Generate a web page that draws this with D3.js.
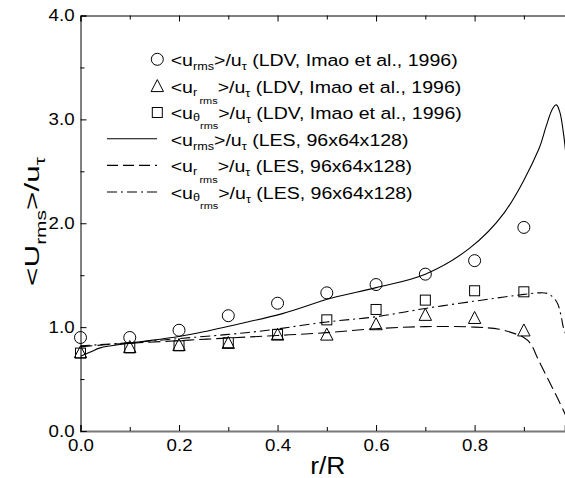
<!DOCTYPE html>
<html>
<head>
<meta charset="utf-8">
<script src="https://cdn.jsdelivr.net/npm/d3@7/dist/d3.min.js"></script>
<style>
  html, body { margin: 0; padding: 0; background: #fff; }
  svg { display: block; }
  text { font-family: "Liberation Sans", Arial, Helvetica, sans-serif; fill: #000; }
</style>
</head>
<body>
<svg id="chart" width="565" height="478"></svg>
<script>
// ---------- data ----------
const rLDV = [0.0, 0.1, 0.2, 0.3, 0.4, 0.5, 0.6, 0.7, 0.8, 0.9];
const uRmsLDV   = [0.90, 0.90, 0.97, 1.11, 1.23, 1.33, 1.41, 1.51, 1.64, 1.96];
const urRmsLDV  = [0.76, 0.81, 0.83, 0.85, 0.93, 0.93, 1.03, 1.12, 1.09, 0.97];
const utRmsLDV  = [0.75, 0.80, 0.82, 0.85, 0.93, 1.07, 1.17, 1.26, 1.35, 1.34];

const rLES_u  = [0.0, 0.02, 0.04, 0.1, 0.2, 0.25, 0.33, 0.41, 0.51, 0.6, 0.7, 0.79, 0.86, 0.93, 0.945, 0.958, 0.966, 0.973, 0.98, 0.986];
const uRmsLES = [0.72, 0.76, 0.80, 0.845, 0.91, 0.955, 1.04, 1.13, 1.28, 1.38, 1.51, 1.76, 2.10, 2.71, 2.93, 3.10, 3.14, 3.07, 2.88, 2.62];

const rLES_r   = [0.0, 0.05, 0.1, 0.2, 0.3, 0.4, 0.5, 0.6, 0.7, 0.8, 0.85, 0.88, 0.9, 0.913, 0.93, 0.95, 0.97, 0.986];
const urRmsLES = [0.81, 0.83, 0.845, 0.87, 0.895, 0.92, 0.947, 0.985, 1.005, 1.0, 0.98, 0.94, 0.90, 0.845, 0.68, 0.49, 0.30, 0.14];

const rLES_t   = [0.0, 0.1, 0.2, 0.3, 0.38, 0.5, 0.6, 0.7, 0.8, 0.86, 0.9, 0.93, 0.95, 0.967, 0.975, 0.98, 0.986];
const utRmsLES = [0.82, 0.85, 0.89, 0.93, 0.97, 1.05, 1.10, 1.18, 1.25, 1.29, 1.315, 1.33, 1.32, 1.24, 1.12, 1.0, 0.92];

const xMajorTicks = [0.0, 0.2, 0.4, 0.6, 0.8];
const xMinorTicks = [0.1, 0.3, 0.5, 0.7, 0.9];
const yMajorTicks = [0.0, 1.0, 2.0, 3.0, 4.0];
const yMinorTicks = [0.5, 1.5, 2.5, 3.5];

const ldvNote = " (LDV, Imao et al., 1996)";
const lesNote = " (LES, 96x64x128)";

// ---------- layout ----------
const svg = d3.select("#chart");
const L = 80.5, R = 565, T = 15.5, B = 431;
const x = d3.scaleLinear().domain([0, 0.9835]).range([L, R]);
const y = d3.scaleLinear().domain([0, 4]).range([B, T]);
const fmt = d3.format(".1f");

svg.append("clipPath").attr("id", "plotclip")
  .append("rect").attr("x", L).attr("y", T).attr("width", R - L).attr("height", B - T);

// ---------- axes ----------
function styleAxis(g, color, width) {
  g.select(".domain").attr("stroke", color).attr("stroke-width", width);
  g.selectAll(".tick line").attr("stroke", "#000");
}
// bottom
const gxB = svg.append("g").attr("transform", `translate(0,${B})`)
  .call(d3.axisBottom(x).tickValues(xMajorTicks).tickSize(-6).tickPadding(8).tickFormat(fmt));
gxB.selectAll(".tick text").attr("font-size", 17).attr("transform", "scale(1.1,1)")
  .attr("font-family", "Liberation Sans, Arial, sans-serif");
styleAxis(gxB, "#777", 2);
svg.append("g").attr("transform", `translate(0,${B})`)
  .call(d3.axisBottom(x).tickValues(xMinorTicks).tickSize(-4).tickFormat(""))
  .call(g => g.select(".domain").remove());
// top
const gxT = svg.append("g").attr("transform", `translate(0,${T})`)
  .call(d3.axisTop(x).tickValues(xMajorTicks).tickSize(-6).tickFormat(""));
styleAxis(gxT, "#000", 1);
svg.append("g").attr("transform", `translate(0,${T})`)
  .call(d3.axisTop(x).tickValues(xMinorTicks).tickSize(-4).tickFormat(""))
  .call(g => g.select(".domain").remove());
// left
const gyL = svg.append("g").attr("transform", `translate(${L},0)`)
  .call(d3.axisLeft(y).tickValues(yMajorTicks).tickSize(-6).tickPadding(5.4).tickFormat(fmt));
gyL.selectAll(".tick text").attr("font-size", 17).attr("transform", "scale(1.1,1)")
  .attr("font-family", "Liberation Sans, Arial, sans-serif");
styleAxis(gyL, "#000", 1);
svg.append("g").attr("transform", `translate(${L},0)`)
  .call(d3.axisLeft(y).tickValues(yMinorTicks).tickSize(-4).tickFormat(""))
  .call(g => g.select(".domain").remove());

// ---------- axis titles ----------
svg.append("text").attr("transform", `translate(${(L + R) / 2 + 5},474) scale(1.1,1)`)
  .attr("text-anchor", "middle").attr("font-size", 24).text("r/R");

function richText(sel, parts) {
  let cur = 0;
  parts.forEach(p => {
    const shift = p.s || 0;
    const ts = sel.append("tspan").attr("font-size", p.f).attr("dy", shift - cur).text(p.t);
    if (p.dx) ts.attr("dx", p.dx);
    cur = shift;
  });
}
const yt = svg.append("text").attr("transform", "translate(39,221.5) rotate(-90) scale(1.5,1)")
  .attr("text-anchor", "middle");
richText(yt, [{t: "<U", f: 21}, {t: "rms", f: 14, s: 7}, {t: ">/u", f: 21, s: 0}, {t: "τ", f: 14, s: 6}]);

// ---------- lines ----------
const plot = svg.append("g").attr("clip-path", "url(#plotclip)");
const line = d3.line().x(d => x(d[0])).y(d => y(d[1])).curve(d3.curveCatmullRom.alpha(0.5));
const dashA = "12,5", dashB = "10,4,2,4";
plot.append("path").attr("d", line(d3.zip(rLES_u, uRmsLES)))
  .attr("fill", "none").attr("stroke", "#000").attr("stroke-width", 1.1);
plot.append("path").attr("d", line(d3.zip(rLES_r, urRmsLES)))
  .attr("fill", "none").attr("stroke", "#000").attr("stroke-width", 1.1).attr("stroke-dasharray", dashA);
plot.append("path").attr("d", line(d3.zip(rLES_t, utRmsLES)))
  .attr("fill", "none").attr("stroke", "#000").attr("stroke-width", 1.1).attr("stroke-dasharray", dashB);

// ---------- markers ----------
function circle(g, cx, cy) {
  g.append("circle").attr("cx", cx).attr("cy", cy).attr("r", 6)
    .attr("fill", "none").attr("stroke", "#000").attr("stroke-width", 1);
}
function tri(g, cx, cy) {
  g.append("path").attr("d", `M${cx},${cy - 6.3}L${cx + 6.2},${cy + 5.7}L${cx - 6.2},${cy + 5.7}Z`)
    .attr("fill", "none").attr("stroke", "#000").attr("stroke-width", 1);
}
function sq(g, cx, cy) {
  g.append("rect").attr("x", cx - 5).attr("y", cy - 5).attr("width", 10).attr("height", 10)
    .attr("fill", "none").attr("stroke", "#000").attr("stroke-width", 1);
}
const mk = svg.append("g");
rLDV.forEach((r, i) => circle(mk, x(r), y(uRmsLDV[i])));
rLDV.forEach((r, i) => tri(mk, x(r), y(urRmsLDV[i])));
rLDV.forEach((r, i) => sq(mk, x(r), y(utRmsLDV[i])));

// ---------- legend ----------
const lg = svg.append("g");
const rowY = [66, 92.6, 119.2, 145.8, 172.4, 199];
const markX = 157.3, lineX0 = 107, lineX1 = 157, textX = 170.7;
circle(lg, markX, rowY[0] - 6.7);
tri(lg, markX, rowY[1] - 6.7);
sq(lg, markX, rowY[2] - 6.7);
[null, dashA, dashB].forEach((d, i) => {
  const ln = lg.append("line").attr("x1", lineX0).attr("x2", lineX1)
    .attr("y1", rowY[3 + i] - 7).attr("y2", rowY[3 + i] - 7)
    .attr("stroke", "#000").attr("stroke-width", 1.1);
  if (d) ln.attr("stroke-dasharray", i === 1 ? "11,5" : d);
});
const subRow = [
  [{t: "rms", f: 11, s: 4}],
  [{t: "r", f: 11, s: 3}, {t: "rms", f: 9.5, s: 11, dx: 2}],
  [{t: "θ", f: 11, s: 2}, {t: "rms", f: 9.5, s: 10}]
];
[0, 1, 2, 3, 4, 5].forEach(i => {
  const t = lg.append("text").attr("transform", `translate(${textX},${rowY[i]}) scale(1.15,1)`);
  const parts = [{t: "<u", f: 17}]
    .concat(subRow[i % 3])
    .concat([{t: ">/u", f: 17, s: 0}, {t: "τ", f: 11, s: 4}, {t: i < 3 ? ldvNote : lesNote, f: 17, s: 0}]);
  richText(t, parts);
});
</script>
</body>
</html>
